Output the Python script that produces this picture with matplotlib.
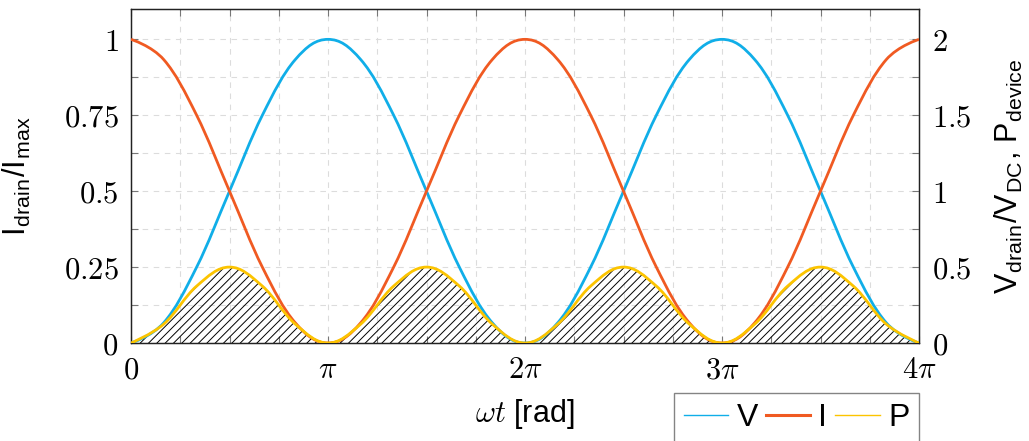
import numpy as np
import matplotlib
matplotlib.use("Agg")
import matplotlib.pyplot as plt
from matplotlib.path import Path
from matplotlib.patches import PathPatch
from matplotlib.lines import Line2D

plt.rcParams['font.family'] = ['Liberation Sans', 'DejaVu Sans']
plt.rcParams['mathtext.fontset'] = 'cm'
plt.rcParams['hatch.linewidth'] = 0.7

# samples every pi/6 over 0..4pi (in units of pi)
wt_pi = [0, 1/6, 2/6, 3/6, 4/6, 5/6, 1, 7/6, 8/6, 9/6, 10/6, 11/6, 2,
         13/6, 14/6, 15/6, 16/6, 17/6, 3, 19/6, 20/6, 21/6, 22/6, 23/6, 4]
i_drain = [1, 0.933, 0.75, 0.5, 0.25, 0.067, 0, 0.067, 0.25, 0.5, 0.75, 0.933, 1,
           0.933, 0.75, 0.5, 0.25, 0.067, 0, 0.067, 0.25, 0.5, 0.75, 0.933, 1]
v_drain = [0, 0.134, 0.5, 1, 1.5, 1.866, 2, 1.866, 1.5, 1, 0.5, 0.134, 0,
           0.134, 0.5, 1, 1.5, 1.866, 2, 1.866, 1.5, 1, 0.5, 0.134, 0]
p_device = [0, 0.125, 0.375, 0.5, 0.375, 0.125, 0, 0.125, 0.375, 0.5, 0.375, 0.125, 0,
            0.125, 0.375, 0.5, 0.375, 0.125, 0, 0.125, 0.375, 0.5, 0.375, 0.125, 0]

x_ticks = [0, 1, 2, 3, 4]
x_labels = ['$0$', r'$\pi$', r'$2\pi$', r'$3\pi$', r'$4\pi$']
left_ticks = [0, 0.25, 0.5, 0.75, 1]
left_labels = ['$0$', '$0.25$', '$0.5$', '$0.75$', '$1$']
right_ticks = [0, 0.5, 1, 1.5, 2]
right_labels = ['$0$', '$0.5$', '$1$', '$1.5$', '$2$']

c_v = '#10aee8'
c_i = '#f05a22'
c_p = '#fcc400'


def smooth_verts(x, y, tension=0.55):
    # pgfplots-like "smooth": cubic bezier through the sample points
    x = np.asarray(x, float) * np.pi
    y = np.asarray(y, float)
    k = tension / 3.0
    verts = [(x[0], y[0])]
    codes = [Path.MOVETO]
    n = len(x)
    for j in range(n - 1):
        if j == 0:
            c1 = (x[0], y[0])
        else:
            c1 = (x[j] + k * (x[j + 1] - x[j - 1]), y[j] + k * (y[j + 1] - y[j - 1]))
        if j + 1 == n - 1:
            c2 = (x[-1], y[-1])
        else:
            c2 = (x[j + 1] - k * (x[j + 2] - x[j]), y[j + 1] - k * (y[j + 2] - y[j]))
        verts += [c1, c2, (x[j + 1], y[j + 1])]
        codes += [Path.CURVE4] * 3
    return verts, codes


fig = plt.figure(figsize=(10.29, 4.41), dpi=100)
ax = fig.add_axes([131 / 1029, 1 - 343 / 441, 788 / 1029, 334 / 441])
ax2 = ax.twinx()
ax.set_zorder(1)
ax2.set_zorder(2)
ax2.patch.set_visible(False)

ax.set_xlim(0, 4 * np.pi)
ax.set_ylim(0, 1.1)
ax2.set_ylim(0, 2.2)

# hatched area under P
verts, codes = smooth_verts(wt_pi, p_device)
verts = verts + [(4 * np.pi, 0), (0, 0), (0, 0)]
codes = codes + [Path.LINETO, Path.LINETO, Path.CLOSEPOLY]
ax2.add_patch(PathPatch(Path(verts, codes), facecolor='none', edgecolor='black',
                        linewidth=0, hatch='////', zorder=1))

verts, codes = smooth_verts(wt_pi, v_drain)
ax2.add_patch(PathPatch(Path(verts, codes), facecolor='none', edgecolor=c_v, lw=2, zorder=2))
verts, codes = smooth_verts(wt_pi, i_drain)
ax2.add_patch(PathPatch(Path(verts, codes), facecolor='none', edgecolor=c_i, lw=2, zorder=3,
                        transform=ax.transData))
verts, codes = smooth_verts(wt_pi, p_device)
ax2.add_patch(PathPatch(Path(verts, codes), facecolor='none', edgecolor=c_p, lw=2, zorder=4))

ax.set_xticks([t * np.pi for t in x_ticks])
ax.set_xticklabels(x_labels)
ax.set_xticks(np.arange(0, 17) * np.pi / 4, minor=True)
ax.set_yticks(left_ticks)
ax.set_yticklabels(left_labels)
ax.set_yticks(np.arange(0, 9) * 0.125, minor=True)
ax2.set_yticks(right_ticks)
ax2.set_yticklabels(right_labels)
ax2.set_yticks(np.arange(0, 9) * 0.25, minor=True)

ax.grid(which='both', color='#dcdcdc', linestyle=(0, (5, 5)), linewidth=0.8)

ax.tick_params(axis='both', which='both', direction='in', length=5, width=0.8,
               color='#777777', labelsize=22)
ax.tick_params(axis='x', which='both', top=True, pad=9)
ax.tick_params(axis='y', which='both', right=False, pad=9)
ax2.tick_params(axis='y', which='both', direction='in', length=5, width=0.8,
                color='#777777', labelsize=22, pad=9)
for a in (ax, ax2):
    for s in a.spines.values():
        s.set_color('#222222')
        s.set_linewidth(0.9)

ax.set_xlabel(r'$\omega t$ [rad]', fontsize=22, labelpad=8)
ax.set_ylabel(r'I$_{\mathregular{drain}}$/I$_{\mathregular{max}}$', fontsize=22)
ax.yaxis.set_label_coords(-0.1244, 0.5)
ax2.set_ylabel(r'V$_{\mathregular{drain}}$/V$_{\mathregular{DC}}$, P$_{\mathregular{device}}$',
               fontsize=22)
ax2.yaxis.set_label_coords(1.0939, 0.5)

handles = [Line2D([], [], color=c_v, lw=1.0),
           Line2D([], [], color=c_i, lw=2.2),
           Line2D([], [], color=c_p, lw=1.0)]
leg = ax2.legend(handles, ['V', 'I', 'P'], loc='upper right', bbox_to_anchor=(1.0, -0.15),
                 ncol=3, fontsize=23, frameon=True, fancybox=False, borderaxespad=0,
                 handlelength=1.4, handletextpad=0.25, columnspacing=0.25, borderpad=0.3)
leg.get_frame().set_edgecolor('#666666')
leg.get_frame().set_linewidth(1.0)

fig.savefig('out.png', dpi=100)
